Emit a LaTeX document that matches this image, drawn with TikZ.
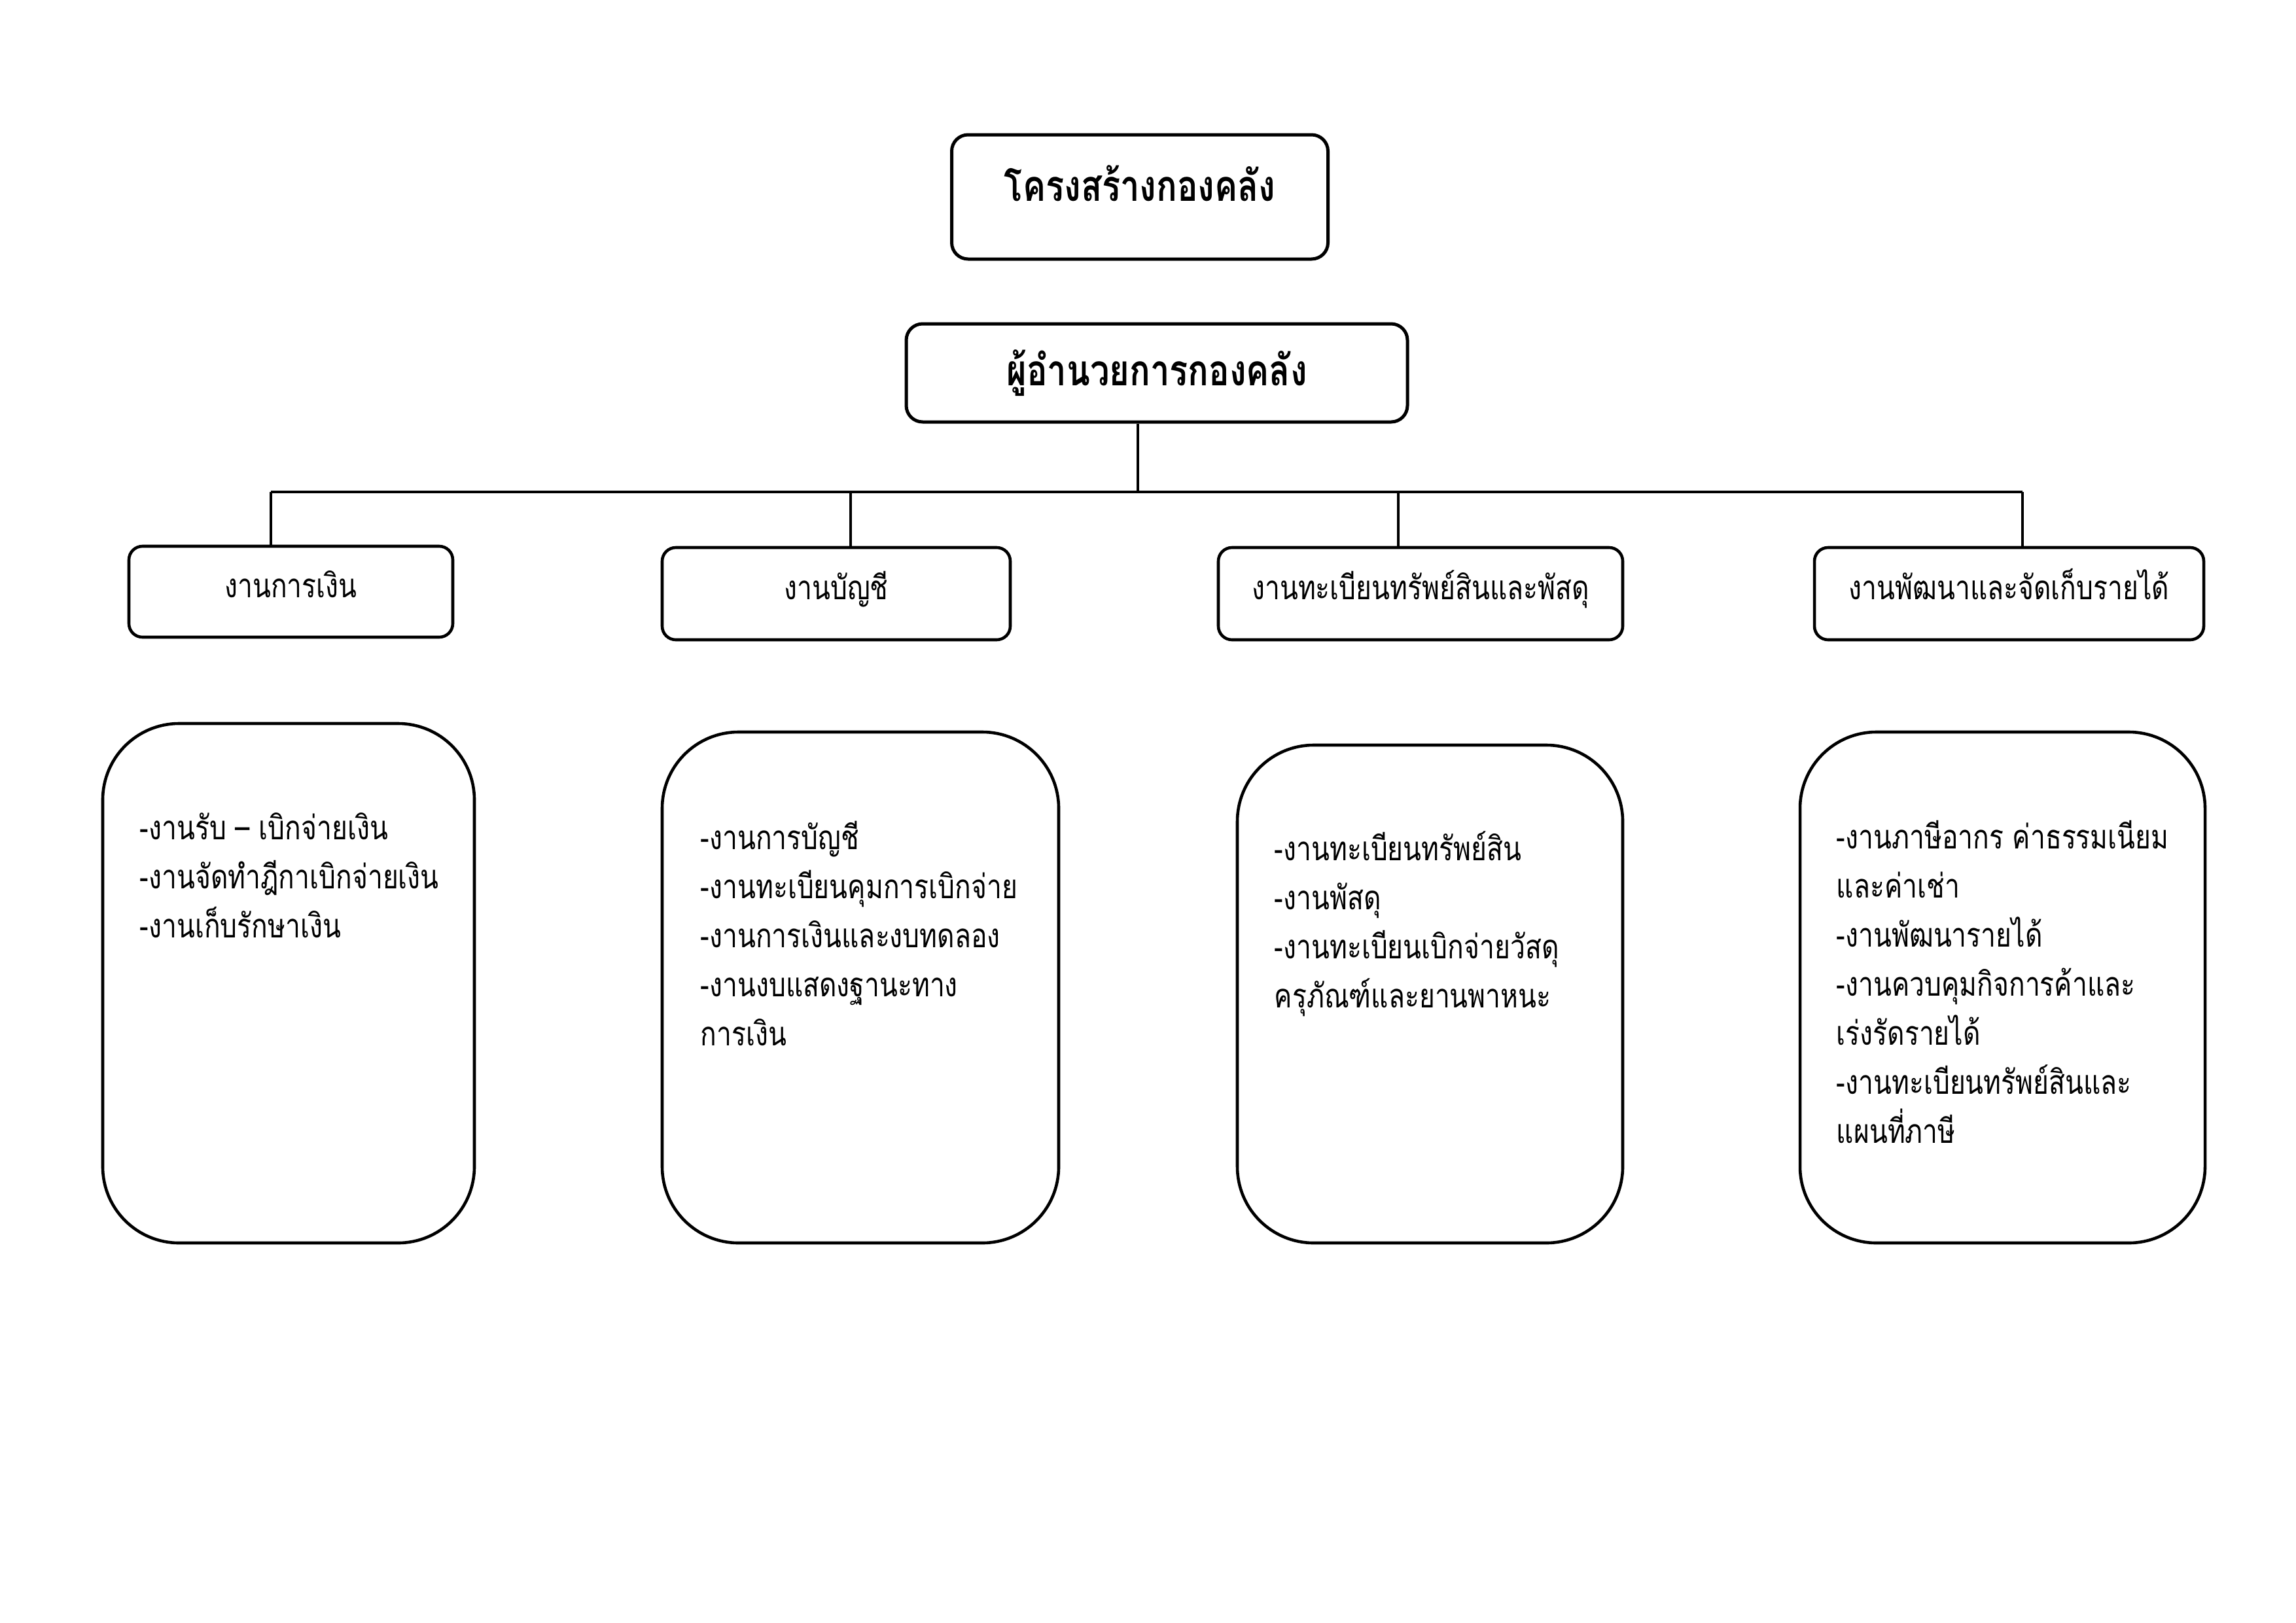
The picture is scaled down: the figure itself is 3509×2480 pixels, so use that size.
\documentclass[tikz,border=0pt]{standalone}
\usepackage{fontspec}
\newfontfamily\thai[Script=Thai, FakeStretch=0.8]{Loma}
\tikzset{
  headbox/.style={draw, line width=1.2pt, rounded corners=6pt, inner sep=0pt},
  unitbox/.style={draw, line width=1.1pt, rounded corners=5pt, inner sep=0pt, text height=8pt, text depth=3.8pt, font=\thai\fontsize{12.25}{14}\selectfont},
  taskbox/.style={draw, line width=1.1pt, rounded corners=28pt, inner sep=0pt},
  tasktext/.style={align=left, anchor=north west, inner sep=0pt, font=\thai\fontsize{12.25}{18}\selectfont},
  headfont/.style={font=\thai\bfseries\fontsize{15.75}{18}\selectfont},
  conn/.style={line width=0.8pt},
  bus/.style={line width=1.1pt}
}
\newcommand{\firststrut}{\rule{0pt}{15pt}}
\begin{document}
\begin{tikzpicture}[x=0.24pt,y=-0.24pt]
\useasboundingbox (0,0) rectangle (3509,2480);
% top
\node[headbox, minimum width=575*0.24pt, minimum height=190*0.24pt] (title) at (1742,301) {};
\node[inner sep=0pt, headfont] (titletext) at (1742,280) {โครงสร้างกองคลัง};
\node[headbox, headfont, minimum width=766*0.24pt, minimum height=150*0.24pt] (dir) at (1768,570) {ผู้อำนวยการกองคลัง};
% units
\node[unitbox, minimum width=495*0.24pt, minimum height=139*0.24pt] (u1) at (444.5,904.5) {งานการเงิน};
\node[unitbox, minimum width=532*0.24pt, minimum height=141*0.24pt] (u2) at (1278,907.5) {งานบัญชี};
\node[unitbox, minimum width=618*0.24pt, minimum height=141*0.24pt] (u3) at (2171,907.5) {งานทะเบียนทรัพย์สินและพัสดุ};
\node[unitbox, minimum width=595*0.24pt, minimum height=141*0.24pt] (u4) at (3070.5,907.5) {งานพัฒนาและจัดเก็บรายได้};
% bus
\coordinate (j0) at (1739,752);
\coordinate (d1) at (414,752);
\coordinate (d2) at (1300,752);
\coordinate (d3) at (2137,752);
\coordinate (d4) at (3091,752);
\draw[conn] (j0 |- dir.south) -- (j0);
\draw[bus] (d1) -- (d4);
\draw[conn] (d1) -- (d1 |- u1.north);
\draw[conn] (d2) -- (d2 |- u2.north);
\draw[conn] (d3) -- (d3 |- u3.north);
\draw[conn] (d4) -- (d4 |- u4.north);
% tasks
\node[taskbox, minimum width=568*0.24pt, minimum height=794*0.24pt] (t1) at (441,1503) {};
\node[taskbox, minimum width=606*0.24pt, minimum height=781*0.24pt] (t2) at (1315,1509.5) {};
\node[taskbox, minimum width=589*0.24pt, minimum height=761*0.24pt] (t3) at (2185.5,1519.5) {};
\node[taskbox, minimum width=619*0.24pt, minimum height=781*0.24pt] (t4) at (3060.5,1509.5) {};
\node[tasktext] (l1) at (213,1220.5) {\firststrut-งานรับ – เบิกจ่ายเงิน\\-งานจัดทำฎีกาเบิกจ่ายเงิน\\-งานเก็บรักษาเงิน};
\node[tasktext] (l2) at (1070,1235) {\firststrut-งานการบัญชี\\-งานทะเบียนคุมการเบิกจ่าย\\-งานการเงินและงบทดลอง\\-งานงบแสดงฐานะทาง\\การเงิน};
\node[tasktext] (l3) at (1947,1252.5) {\firststrut-งานทะเบียนทรัพย์สิน\\-งานพัสดุ\\-งานทะเบียนเบิกจ่ายวัสดุ\\ครุภัณฑ์และยานพาหนะ};
\node[tasktext] (l4) at (2806,1234) {\firststrut-งานภาษีอากร ค่าธรรมเนียม\\และค่าเช่า\\-งานพัฒนารายได้\\-งานควบคุมกิจการค้าและ\\เร่งรัดรายได้\\-งานทะเบียนทรัพย์สินและ\\แผนที่ภาษี};
\end{tikzpicture}
\end{document}
